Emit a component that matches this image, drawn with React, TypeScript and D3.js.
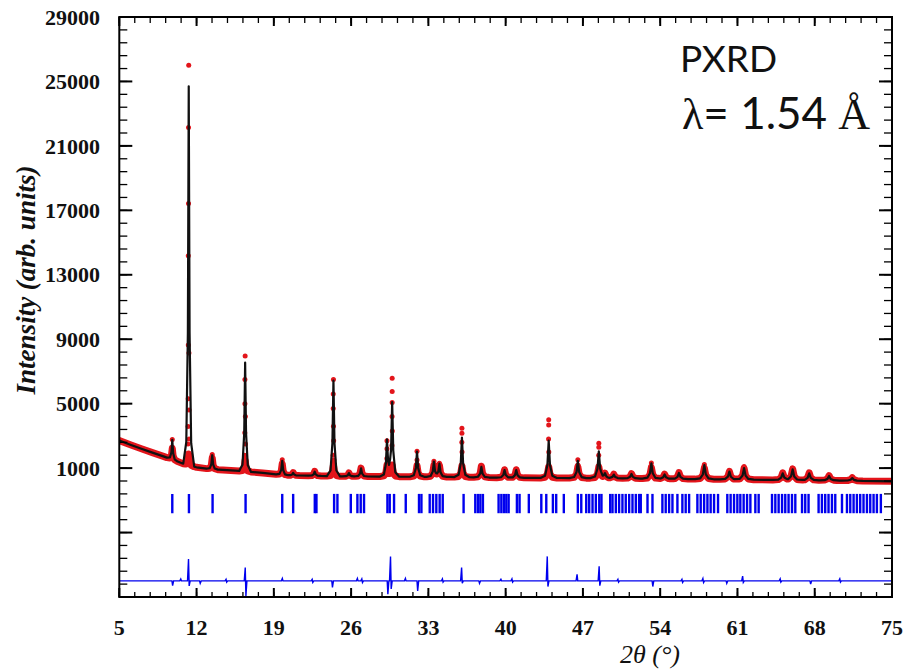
import React from 'react';
import * as d3 from 'd3';

// ---------- data ----------
// background of the pattern (2θ, intensity)
const bgX = [5, 6, 7, 8, 9, 10, 11, 12, 13, 14, 16, 18, 20, 25, 30, 35, 40, 45, 50, 55, 60, 65, 70, 75];
const bgY = [2710, 2450, 2200, 1960, 1730, 1480, 1220, 1050, 960, 900, 820, 700, 560, 490, 470, 450, 400, 385, 370, 330, 300, 260, 230, 180];

// reflections: position, calculated top, observed top
const peakPos = [9.8, 11.29, 13.42, 16.4, 19.76, 20.75, 22.7, 24.4, 25.8, 26.9, 29.25, 29.72, 31.97, 33.5, 34.0, 36.04, 37.8, 39.9, 40.96, 43.9, 46.54, 48.44, 49.0, 49.8, 51.4, 53.2, 54.4, 55.7, 58.0, 60.27, 61.6, 65.1, 66.0, 67.5, 69.3, 71.4];
const peakCalc = [2750, 24700, 1800, 7550, 1450, 700, 780, 6430, 690, 980, 2650, 5030, 2030, 1380, 1250, 2900, 1080, 880, 880, 2700, 1450, 2030, 640, 600, 640, 1300, 610, 700, 1180, 780, 1000, 680, 920, 680, 510, 380];
const peakObs = [2780, 26000, 1850, 7960, 1520, 720, 800, 6500, 700, 1000, 2700, 6580, 2050, 1420, 1300, 3480, 1120, 900, 900, 4000, 1515, 2550, 660, 620, 660, 1320, 630, 720, 1220, 800, 1100, 700, 950, 700, 530, 400];

// individual observed points visible on the flanks of the strong peaks
const obsDotX = [11.27, 11.27, 11.25, 11.25, 11.31, 11.24, 11.32, 11.23, 11.33, 11.22, 16.38, 16.38, 16.42, 16.37, 16.43, 16.36, 24.38, 24.38, 24.4, 24.42, 24.37, 24.44, 29.72, 29.72, 29.71, 29.73, 29.7, 36.04, 36.03, 36.05, 43.9, 43.89, 43.91, 48.44, 48.43, 29.25, 29.24, 31.97, 46.54];
const obsDotY = [22140, 17430, 14180, 8640, 8150, 5300, 4600, 3580, 2800, 2500, 6500, 5000, 4200, 3200, 2500, 1800, 5600, 4700, 3600, 2700, 1800, 1500, 5750, 5070, 4200, 3300, 2400, 3170, 2600, 2000, 3680, 2800, 2000, 2300, 1800, 2200, 1600, 1500, 1200];

// difference curve features: position, spike up, spike down (offset -6000)
const diffBase = -6000;
const diffPos = [9.8, 10.6, 11.3, 12.3, 14.7, 16.44, 19.8, 22.5, 24.28, 26.6, 27.0, 29.3, 29.6, 30.95, 32.0, 34.3, 36.04, 37.6, 39.6, 40.6, 43.8, 46.5, 48.5, 50.2, 53.3, 56.0, 57.9, 60.0, 61.5, 64.9, 67.6, 70.3];
const diffUp = [0, 120, 1350, 0, 100, 830, 150, 100, 0, 150, 120, 0, 1510, 150, 0, 120, 830, 0, 100, 120, 1520, 400, 900, 100, 0, 100, 150, 0, 300, 120, 0, 120];
const diffDown = [300, 0, 310, 150, 80, 930, 0, 100, 410, 0, 100, 830, 500, 0, 620, 80, 150, 150, 0, 80, 350, 0, 300, 80, 350, 100, 100, 150, 100, 80, 200, 80];

// Bragg reflection positions
const braggPos = [9.8, 11.31, 13.45, 16.44, 19.76, 20.75, 22.71, 22.86, 24.46, 24.76, 25.97, 26.57, 26.87, 27.17, 29.29, 29.5, 29.89, 30.95, 32.15, 32.37, 33.12, 33.42, 33.72, 34.02, 34.3, 36.19, 37.25, 37.49, 37.71, 37.94, 39.36, 39.61, 39.84, 40.06, 40.27, 41.02, 41.26, 42.1, 43.23, 43.68, 44.28, 44.58, 45.27, 46.54, 46.85, 47.3, 47.57, 47.87, 48.17, 48.48, 48.68, 49.47, 49.68, 49.98, 50.28, 50.58, 50.88, 51.19, 51.49, 51.79, 52.09, 52.24, 52.85, 53.3, 54.2, 54.5, 54.81, 55.11, 55.56, 56.01, 56.31, 56.62, 57.37, 57.67, 57.98, 58.28, 58.57, 58.88, 59.24, 60.08, 60.38, 60.69, 60.99, 61.26, 61.56, 61.87, 62.17, 62.62, 62.92, 64.13, 64.43, 64.73, 65.04, 65.33, 65.63, 65.94, 66.24, 66.85, 67.14, 67.44, 68.35, 68.65, 68.95, 69.25, 69.56, 69.86, 70.47, 70.92, 71.22, 71.52, 71.82, 72.12, 72.42, 72.73, 73.03, 73.33, 73.63, 73.99];

const xTickLabels = [5, 12, 19, 26, 33, 40, 47, 54, 61, 68, 75];
const yTickLabels = [1000, 5000, 9000, 13000, 17000, 21000, 25000, 29000];
const yMajorUnlabeled = [-7000, -3000];

// ---------- layout ----------
const W = 914;
const H = 671;
const L = 119.3, R = 892, T = 17, B = 597;
const RED = '#e3151b';
const BLUE = '#0000ee';

export default function App() {
  const x = d3.scaleLinear().domain([5, 75]).range([L, R]);
  const y = d3.scaleLinear().domain([-7000, 29000]).range([B, T]);
  const bg = d3.scaleLinear().domain(bgX).range(bgY).clamp(true);

  // peak shape template (offsets in degrees, fraction of height)
  const offs = [-0.45, -0.2, -0.07, 0, 0.07, 0.2, 0.45];
  const fracs = [0, 0.06, 0.35, 1, 0.35, 0.06, 0];
  const widthFactor = (p: number) => 1 + (p - 5) / 60;
  const peakShape = (i: number, tops: number[], cap: number) => {
    const s = widthFactor(peakPos[i]);
    const h = Math.min(tops[i] - bg(peakPos[i]), cap);
    return d3.scaleLinear().domain(offs.map(o => peakPos[i] + o * s)).range(fracs.map(f => f * h)).clamp(true);
  };
  const buildProfile = (tops: number[], cap: number) => {
    const shapes = peakPos.map((_, i) => peakShape(i, tops, cap));
    const xs: number[] = [...bgX];
    peakPos.forEach(p => {
      const s = widthFactor(p);
      offs.forEach(o => xs.push(p + o * s));
    });
    xs.sort((a, b) => a - b);
    return xs.filter(v => v >= 5 && v <= 75).map(v => [v, bg(v) + d3.sum(shapes, sh => sh(v))] as [number, number]);
  };
  const line = d3.line<[number, number]>().x(d => x(d[0])).y(d => y(d[1]));
  const bandPath = line(buildProfile(peakObs, 700)) || '';
  const calcPath = line(buildProfile(peakCalc, 1e9)) || '';

  const diffPts: [number, number][] = [[5, diffBase], [75, diffBase]];
  diffPos.forEach((p, i) => {
    diffPts.push([p - 0.12, diffBase], [p - 0.03, diffBase + diffUp[i]], [p + 0.03, diffBase - diffDown[i]], [p + 0.12, diffBase]);
  });
  diffPts.sort((a, b) => a[0] - b[0]);
  const diffPath = line(diffPts) || '';

  const xMinor = d3.range(5, 75.001, 1.4);
  const yMinor = d3.range(-7000, 29001, 800);
  const yMajor = [...yMajorUnlabeled, ...yTickLabels];

  const serif = '"Liberation Serif", serif';
  const sans = 'Lato, "Open Sans", sans-serif';

  return (
    <svg width={W} height={H} style={{ position: 'absolute', left: 0, top: 0, background: '#fff' }}>
      <rect x={0} y={0} width={W} height={H} fill="#fff" />
      <defs>
        <clipPath id="plot">
          <rect x={L} y={T} width={R - L} height={B - T} />
        </clipPath>
      </defs>
      <g clipPath="url(#plot)">
        {/* Bragg positions */}
        {braggPos.map((p, i) => (
          <line key={'b' + i} x1={x(p)} x2={x(p)} y1={y(-600)} y2={y(-1800)} stroke={BLUE} strokeWidth={2.4} />
        ))}
        {/* difference */}
        <path d={diffPath} fill="none" stroke={BLUE} strokeWidth={1.4} />
        {/* observed */}
        <path d={bandPath} fill="none" stroke={RED} strokeWidth={7} strokeLinejoin="round" strokeLinecap="round" />
        {peakPos.map((p, i) => (
          <circle key={'o' + i} cx={x(p)} cy={y(peakObs[i])} r={2.5} fill={RED} />
        ))}
        {obsDotX.map((p, i) => (
          <circle key={'d' + i} cx={x(p)} cy={y(obsDotY[i])} r={2.5} fill={RED} />
        ))}
        {/* calculated */}
        <path d={calcPath} fill="none" stroke="#111" strokeWidth={2.2} strokeLinejoin="round" />
      </g>

      {/* ticks */}
      {xMinor.map((v, i) => (
        <g key={'xm' + i}>
          <line x1={x(v)} x2={x(v)} y1={B} y2={B - 5} stroke="#000" strokeWidth={1.3} />
          <line x1={x(v)} x2={x(v)} y1={T} y2={T + 6} stroke="#000" strokeWidth={1.3} />
        </g>
      ))}
      {xTickLabels.map((v, i) => (
        <g key={'xM' + i}>
          <line x1={x(v)} x2={x(v)} y1={B} y2={B - 9} stroke="#000" strokeWidth={2} />
          <line x1={x(v)} x2={x(v)} y1={T} y2={T + 9} stroke="#000" strokeWidth={2} />
          <text x={x(v)} y={635} textAnchor="middle" fontFamily={serif} fontWeight="bold" fontSize={22} fill="#111">{v}</text>
        </g>
      ))}
      {yMinor.map((v, i) => (
        <g key={'ym' + i}>
          <line x1={L} x2={L + 8} y1={y(v)} y2={y(v)} stroke="#000" strokeWidth={1.3} />
          <line x1={R} x2={R - 8} y1={y(v)} y2={y(v)} stroke="#000" strokeWidth={1.3} />
        </g>
      ))}
      {yMajor.map((v, i) => (
        <g key={'yM' + i}>
          <line x1={L} x2={L + 13} y1={y(v)} y2={y(v)} stroke="#000" strokeWidth={2} />
          <line x1={R} x2={R - 13} y1={y(v)} y2={y(v)} stroke="#000" strokeWidth={2} />
        </g>
      ))}
      {yTickLabels.map((v, i) => (
        <text key={'yl' + i} x={100} y={y(v)} dy="0.35em" textAnchor="end" fontFamily={serif} fontWeight="bold" fontSize={22} fill="#111">{v}</text>
      ))}

      {/* frame */}
      <rect x={L} y={T} width={R - L} height={B - T} fill="none" stroke="#000" strokeWidth={2} />

      {/* axis titles */}
      <text transform={`translate(35,280) rotate(-90)`} textAnchor="middle" fontFamily={serif} fontWeight="bold" fontStyle="italic" fontSize={27} fill="#111">Intensity (arb. units)</text>
      <text x={650} y={663} textAnchor="middle" fontFamily={serif} fontStyle="italic" fontSize={26} fill="#111">2θ (°)</text>

      {/* annotation */}
      <text x={680} y={72} fontFamily={sans} fontSize={37} fill="#111">PXRD</text>
      <text x={682} y={129} fontSize={44} fill="#111">
        <tspan fontFamily={serif}>λ</tspan>
        <tspan fontFamily={sans}>= 1.54 </tspan>
        <tspan fontFamily={serif}>Å</tspan>
      </text>
    </svg>
  );
}
